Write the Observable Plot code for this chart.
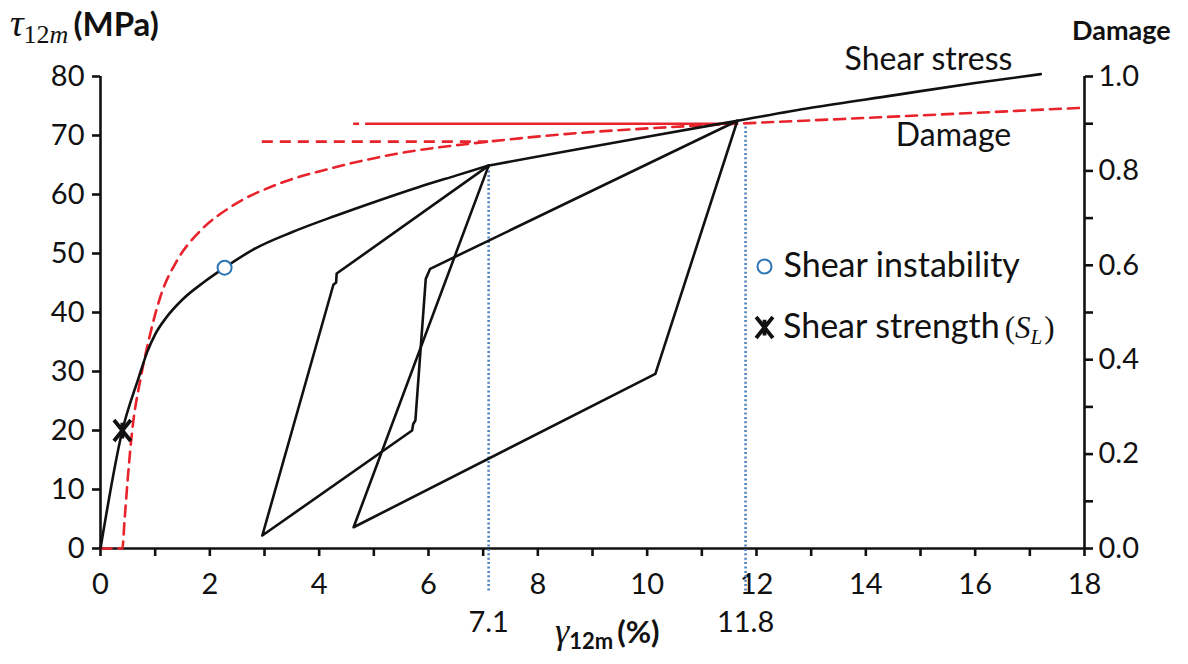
<!DOCTYPE html>
<html>
<head>
<meta charset="utf-8">
<script src="https://cdn.jsdelivr.net/npm/d3@7"></script>
<script src="https://cdn.jsdelivr.net/npm/@observablehq/plot@0.6"></script>
<style>
  html, body { margin: 0; padding: 0; background: #fff; }
  #chart svg { display: block; }
</style>
</head>
<body>
<div id="chart"></div>
<script>
// Monotonic shear response up to the first unloading: strain γ12m (%) and stress τ12m (MPa)
const loadingStrain = [0, 0.40, 0.70, 0.85, 1.00, 1.20, 1.50, 1.90, 2.27, 2.80, 3.50, 4.30, 5.00, 5.80, 6.50, 7.10];
const loadingStress = [0, 20.0, 29.0, 33.2, 36.3, 39.1, 42.2, 45.2, 47.6, 50.7, 53.6, 56.4, 58.7, 61.2, 63.2, 64.9];

// Upper branch beyond the first unloading point
const upperStrain = [7.10, 8.50, 10.00, 11.65, 13.00, 14.50, 16.00, 17.20];
const upperStress = [64.9, 67.3, 69.8, 72.5, 74.7, 76.8, 78.9, 80.4];

// First unloading / reloading cycle
const cycle1Strain = [7.10, 4.32, 4.31, 4.26, 2.96, 5.70, 5.72, 5.76, 5.95, 6.03, 11.65];
const cycle1Stress = [64.9, 46.6, 45.1, 44.7, 2.2, 20.0, 21.1, 21.7, 45.7, 47.4, 72.5];

// Second unloading / reloading cycle
const cycle2Strain = [7.10, 4.63, 10.15, 11.65];
const cycle2Stress = [64.9, 3.6, 29.6, 72.5];

// Damage variable (right axis, 0–1)
const damageStrain = [0, 0.40, 0.44, 0.50, 0.58, 0.73, 0.90, 1.10, 1.40, 1.80, 2.40, 3.20, 4.20, 5.50, 7.10, 8.50, 10.00, 11.65, 13.00, 14.50, 16.00, 18.00];
const damageValue  = [0, 0, 0.06, 0.15, 0.25, 0.358, 0.45, 0.535, 0.61, 0.67, 0.725, 0.77, 0.805, 0.838, 0.862, 0.878, 0.890, 0.900, 0.907, 0.915, 0.923, 0.934];

// Damage held constant during each unloading
const frozenStart  = [2.96, 4.63];
const frozenEnd    = [7.10, 11.65];
const frozenDamage = [0.862, 0.900];

// Labelled strains at the unloading points
const peakStrain = [7.1, 11.8];
const peakStress = [64.9, 72.7];

// Highlighted points
const instabilityStrain = [2.27];
const instabilityStress = [47.6];
const strengthStrain = [0.40];
const strengthStress = [20.0];

// Axis ticks
const xTickLabels = [0, 2, 4, 6, 8, 10, 12, 14, 16, 18];
const xMinorTicks = [1, 3, 5, 7, 9, 11, 13, 15, 17];
const yTickLabels = [0, 10, 20, 30, 40, 50, 60, 70, 80];
const damageTickLabels = [0, 0.2, 0.4, 0.6, 0.8, 1.0];
const damageMinorTicks = [0.1, 0.3, 0.5, 0.7, 0.9];

const Y_MAX = 80;           // stress at the top of the frame
const toY = d => d * Y_MAX; // damage 1.0 sits at the top of the frame

const zip = (xs, ys) => xs.map((x, i) => ({x, y: ys[i]}));
const loading = zip(loadingStrain, loadingStress);
const upper = zip(upperStrain, upperStress);
const cycle1 = zip(cycle1Strain, cycle1Stress);
const cycle2 = zip(cycle2Strain, cycle2Stress);
const damage = zip(damageStrain, damageValue);
const frozen = frozenStart.map((s, i) => ({x1: s, x2: frozenEnd[i], d: frozenDamage[i]}));
const peaks = zip(peakStrain, peakStress);
const instability = zip(instabilityStrain, instabilityStress);
const strength = zip(strengthStrain, strengthStress);

// Six-armed cross used for the shear-strength marker
const starCross = {
  draw(context, size) {
    const r = Math.sqrt(size / Math.PI);
    const w = r * 0.8;
    context.moveTo(-w, -r); context.lineTo(w, r);
    context.moveTo(-w, r);  context.lineTo(w, -r);
    context.moveTo(0, -r * 0.75); context.lineTo(0, r * 0.75);
  }
};

const INK = "#111";
const RED = "#e8232b";
const BLUE = "#4f81bd";
const AXW = 2.6;
const SANS = "Lato, sans-serif";
const SERIF = "'Liberation Serif', 'DejaVu Serif', serif";

const label = (text, dx, dy, size, anchor = "middle") =>
  Plot.text([text], {frameAnchor: "top-left", dx, dy, fontSize: size, fill: INK,
                     textAnchor: anchor, lineAnchor: "middle"});

const chart = Plot.plot({
  width: 1188,
  height: 664,
  marginTop: 76,
  marginRight: 104,
  marginBottom: 116,
  marginLeft: 100,
  style: {fontFamily: SANS, fontSize: "29px", color: INK, background: "#fff", overflow: "visible"},
  x: {domain: [0, 18]},
  y: {domain: [0, Y_MAX]},
  marks: [
    // axes
    Plot.axisX({ticks: xTickLabels, tickSize: 8, tickPadding: 17, strokeWidth: AXW, label: null}),
    Plot.axisX({ticks: xMinorTicks, tickSize: 8, strokeWidth: AXW, tickFormat: () => "", label: null}),
    Plot.axisY({ticks: yTickLabels, tickSize: 8, tickPadding: 8, strokeWidth: AXW, label: null}),
    Plot.axisY({anchor: "right", ticks: damageTickLabels.map(toY), tickFormat: v => (v / Y_MAX).toFixed(1),
                tickSize: 8, tickPadding: 6, strokeWidth: AXW, label: null}),
    Plot.axisY({anchor: "right", ticks: damageMinorTicks.map(toY), tickFormat: () => "",
                tickSize: 8, strokeWidth: AXW, label: null}),
    Plot.ruleX([0, 18], {stroke: INK, strokeWidth: AXW}),
    Plot.ruleY([0], {x1: 0, x2: 18, stroke: INK, strokeWidth: AXW}),

    // dotted markers at the unloading strains, with their values below the axis
    Plot.ruleX(peaks, {x: "x", y1: -7.2, y2: "y", stroke: BLUE, strokeWidth: 2.6, strokeDasharray: "2,2.4"}),
    Plot.text(peaks, {x: "x", text: d => d.x.toFixed(1), frameAnchor: "bottom", lineAnchor: "middle",
                      dy: 74, fontSize: 29, fill: INK}),

    // damage curve and the constant-damage unloading segments
    Plot.line(damage, {x: "x", y: d => toY(d.y), stroke: RED, strokeWidth: 2.6, strokeDasharray: "11,7", curve: "monotone-x"}),
    Plot.ruleY(frozen.slice(0, 1), {x1: "x1", x2: "x2", y: d => toY(d.d), stroke: RED, strokeWidth: 2.6, strokeDasharray: "11,7"}),
    Plot.ruleY(frozen.slice(1), {x1: "x1", x2: "x2", y: d => toY(d.d), stroke: RED, strokeWidth: 2.6, strokeDasharray: "6,6,2000"}),

    // shear stress response
    Plot.line(loading, {x: "x", y: "y", stroke: INK, strokeWidth: 2.6, curve: "monotone-x"}),
    Plot.line(upper, {x: "x", y: "y", stroke: INK, strokeWidth: 2.6, curve: "monotone-x"}),
    Plot.line(cycle1, {x: "x", y: "y", stroke: INK, strokeWidth: 2.6, strokeLinejoin: "round"}),
    Plot.line(cycle2, {x: "x", y: "y", stroke: INK, strokeWidth: 2.6, strokeLinejoin: "round"}),

    // highlighted points
    Plot.dot(instability, {x: "x", y: "y", r: 7, stroke: "#2e75b6", fill: "#fff", strokeWidth: 2}),
    Plot.dot(strength, {x: "x", y: "y", r: 10.5, symbol: starCross, stroke: INK, fill: "none", strokeWidth: 3.8}),

    // curve labels
    label("Shear stress", 828, -17, 32),
    label("Damage", 853, 59, 32),

    // legend
    Plot.dot([0], {frameAnchor: "top-left", dx: 664, dy: 190, r: 7, stroke: "#2e75b6", fill: "#fff", strokeWidth: 2}),
    Plot.dot([0], {frameAnchor: "top-left", dx: 664, dy: 251, r: 10.5, symbol: starCross, stroke: INK, fill: "none", strokeWidth: 3.8}),
    label("Shear instability", 683, 190, 34, "start")
  ]
});

document.getElementById("chart").appendChild(chart);

// Titles and legend entries that need subscripts
const svg = d3.select(chart);
const addText = (x, y) => svg.append("text").attr("x", x).attr("y", y).attr("fill", INK)
  .attr("text-anchor", "start").attr("font-family", SANS);

const yTitle = addText(10, 36);
yTitle.append("tspan").attr("font-family", SERIF).attr("font-style", "italic").attr("font-size", 38).text("τ");
yTitle.append("tspan").attr("font-family", SERIF).attr("font-size", 26).attr("dy", 7).text("12");
yTitle.append("tspan").attr("font-family", SERIF).attr("font-style", "italic").attr("font-size", 26).text("m");
yTitle.append("tspan").attr("font-weight", "bold").attr("font-size", 33).attr("dy", -7).attr("dx", 5).text("(MPa)");

const xTitle = addText(555, 643);
xTitle.append("tspan").attr("font-family", SERIF).attr("font-style", "italic").attr("font-size", 36).text("γ");
xTitle.append("tspan").attr("font-weight", "bold").attr("font-size", 22).attr("dy", 6).text("12m");
xTitle.append("tspan").attr("font-weight", "bold").attr("font-size", 31).attr("dy", -6).attr("dx", 4).text("(%)");

addText(1072, 40).attr("font-weight", "bold").attr("font-size", 27).text("Damage");

const legend2 = addText(783, 338).attr("font-size", 34);
legend2.append("tspan").text("Shear strength");
legend2.append("tspan").attr("font-family", SERIF).attr("font-size", 31).attr("dx", 5).text("(");
legend2.append("tspan").attr("font-family", SERIF).attr("font-style", "italic").attr("font-size", 31).text("S");
legend2.append("tspan").attr("font-family", SERIF).attr("font-style", "italic").attr("font-size", 21).attr("dy", 6).text("L");
legend2.append("tspan").attr("font-family", SERIF).attr("font-size", 31).attr("dy", -6).attr("dx", 2).text(")");
</script>
</body>
</html>
